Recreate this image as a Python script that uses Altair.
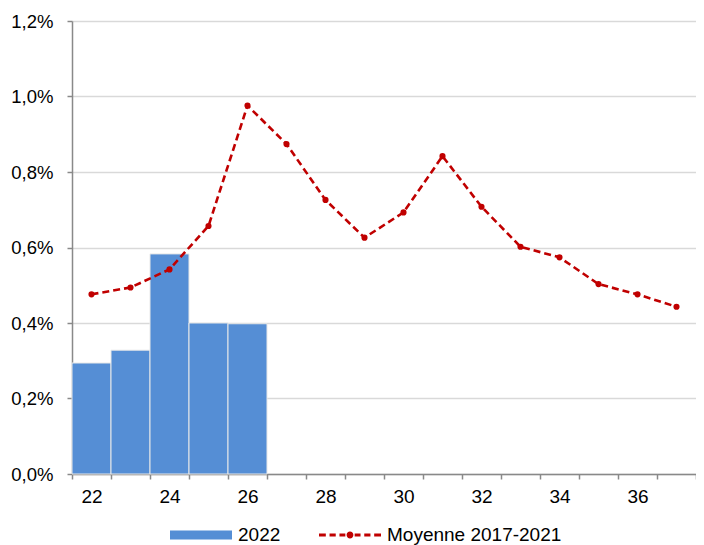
import altair as alt
import pandas as pd

# ---- data ----
weeks_2022 = [22, 23, 24, 25, 26]
values_2022 = [0.294, 0.328, 0.583, 0.400, 0.398]

weeks_avg = [22, 23, 24, 25, 26, 27, 28, 29, 30, 31, 32, 33, 34, 35, 36, 37]
values_avg = [0.476, 0.494, 0.542, 0.657, 0.976, 0.874, 0.726, 0.626,
              0.693, 0.842, 0.708, 0.602, 0.574, 0.503, 0.476, 0.443]

series_names = ["2022", "Moyenne 2017-2021"]
series_colors = ["#558ED5", "#C00000"]
y_ticks = [0, 0.2, 0.4, 0.6, 0.8, 1.0, 1.2]

df_bar = pd.DataFrame({"week": weeks_2022, "value": values_2022, "series": series_names[0]})
df_avg = pd.DataFrame({"week": weeks_avg, "value": values_avg, "series": series_names[1]})

FONT = "Liberation Sans"
AXIS_GRAY = "#898989"

rect_path = "M-1,-0.145H1V0.145H-1Z"
dash_path = ("M-1,-0.045H-0.78V0.045H-1Z"
             "M-0.66,-0.045H-0.46V0.045H-0.66Z"
             "M-0.34,-0.045H-0.15V0.045H-0.34Z"
             "M-0.11,0A0.11,0.11 0 1,0 0.11,0A0.11,0.11 0 1,0 -0.11,0Z"
             "M0.15,-0.045H0.34V0.045H0.15Z"
             "M0.46,-0.045H0.66V0.045H0.46Z"
             "M0.78,-0.045H1V0.045H0.78Z")

legend = alt.Legend(
    title=None,
    orient="none",
    direction="horizontal",
    legendX=98,
    legendY=483,
    symbolSize=3844,
    symbolType={"expr": f"datum.value === '2022' ? '{rect_path}' : '{dash_path}'"},
    symbolFillColor={"expr": f"datum.value === '2022' ? '{series_colors[0]}' : '{series_colors[1]}'"},
    symbolStrokeWidth=0,
    symbolOpacity=1,
    labelFont=FONT,
    labelFontSize=19,
    labelColor="black",
    labelOffset=6,
    labelLimit=400,
    columnPadding=38,
)

color_scale = alt.Scale(domain=series_names, range=series_colors)

x_enc = alt.X(
    "week:O",
    scale=alt.Scale(domain=weeks_avg, paddingInner=0, paddingOuter=0),
    axis=alt.Axis(
        title=None,
        labelExpr="datum.value % 2 == 0 ? datum.label : ''",
        tickBand="extent",
        labelAngle=0,
        labelFont=FONT,
        labelFontSize=19,
        labelColor="black",
        domainColor=AXIS_GRAY,
        tickColor=AXIS_GRAY,
        domainWidth=1.5,
        tickWidth=1.5,
        tickSize=5,
        labelPadding=8,
        grid=False,
    ),
)

y_enc = alt.Y(
    "value:Q",
    scale=alt.Scale(domain=[0, 1.2], nice=False),
    axis=alt.Axis(
        title=None,
        values=y_ticks,
        labelExpr="replace(format(datum.value, '.1f'), '.', ',') + '%'",
        labelFont=FONT,
        labelFontSize=18.5,
        labelColor="black",
        gridColor="#D9D9D9",
        gridWidth=1.5,
        domainColor=AXIS_GRAY,
        tickColor=AXIS_GRAY,
        domainWidth=1.5,
        tickWidth=1.5,
        tickSize=5,
        labelPadding=14,
    ),
)

bars = alt.Chart(df_bar).mark_bar(stroke="#E8E8E8", strokeWidth=1, opacity=1).encode(
    x=x_enc,
    y=y_enc,
    color=alt.Color("series:N", scale=color_scale, legend=legend),
)

line = alt.Chart(df_avg).mark_line(strokeDash=[7, 4], strokeWidth=2.6).encode(
    x=x_enc,
    y=y_enc,
    color=alt.Color("series:N", scale=color_scale),
)

points = alt.Chart(df_avg).mark_circle(size=38, opacity=1).encode(
    x=x_enc,
    y=y_enc,
    color=alt.Color("series:N", scale=color_scale),
)

chart = (
    alt.layer(bars, line, points)
    .properties(
        width=624,
        height=453,
        autosize=alt.AutoSizeParams(type="none"),
        padding={"left": 64, "top": 13, "right": 0, "bottom": 71},
        background="white",
    )
    .configure_view(stroke=None)
)

chart.save("out.html", embed_options={"renderer": "svg", "actions": False})
